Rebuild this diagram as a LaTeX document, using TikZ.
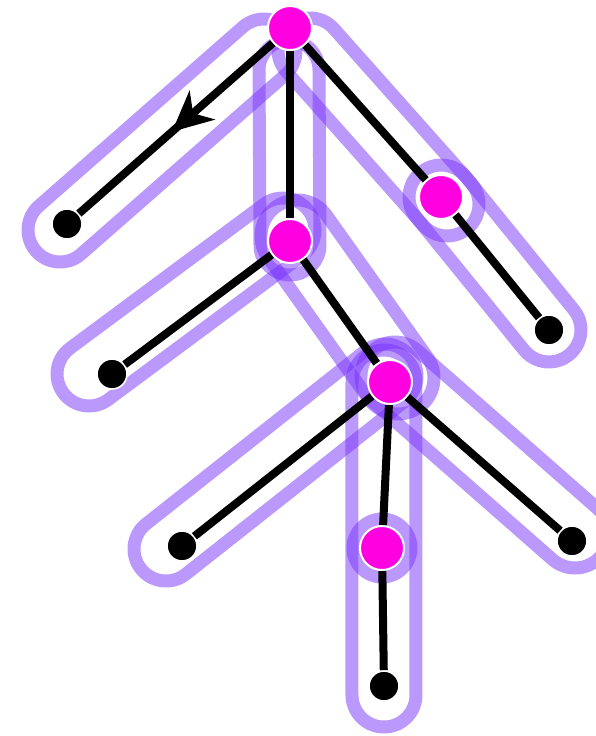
\documentclass[tikz,border=0pt]{standalone}
\usepackage{tikz}
\usetikzlibrary{arrows.meta,calc,decorations.markings}
\definecolor{hullviolet}{RGB}{120,50,250}
\definecolor{vtxmagenta}{RGB}{255,0,225}

% capsule round a path piece: \hull[radius]{(from)}{(to)}
\newcommand{\hull}[3][16pt]{%
  \path let \p1=($#3-#2$) in
    node[hullbox,minimum width={veclen(\x1,\y1)+2*#1},minimum height={2*#1},
         rounded corners=#1,rotate={atan2(\y1,\x1)}] at ($#2!0.5!#3$) {};}

\begin{document}
\begin{tikzpicture}[x=0.5pt,y=-0.5pt,
  hullbox/.style={draw=hullviolet,draw opacity=0.5,line width=6.5pt,line join=round,
                  inner sep=0pt,outer sep=0pt},
  vtx/.style={circle,fill=vtxmagenta,draw=white,line width=1pt,minimum size=22pt,inner sep=0pt},
  leaf/.style={circle,fill=black,draw=white,line width=0.8pt,minimum size=15pt,inner sep=0pt},
  edge/.style={draw=black,line width=4pt},
  arrowmid/.style={postaction=decorate,decoration={markings,
    mark=at position 0.52 with {\arrow{Stealth[length=20pt,width=19pt,inset=6pt]}}}}]
\useasboundingbox (0,0) rectangle (596,736);

\hull{(264,51)}{(60,230)}
\hull[15pt]{(289,70)}{(290,245)}
\hull{(310,50)}{(447,204)}
\hull{(441,197)}{(549,330)}
\hull{(283,230)}{(89,374)}
\hull[18pt]{(297,236)}{(398,378)}
\hull{(385,376)}{(166,549)}
\hull[17pt]{(395,376)}{(575,534)}
\hull{(384,382)}{(384,695)}
\draw[hullbox] (382,548) circle[radius=14.5pt];

\node[vtx] (root) at (290,28) {};
\node[vtx] (m1) at (441,197) {};
\node[vtx] (m2) at (290,241) {};
\node[vtx] (m3) at (390,382) {};
\node[vtx] (m4) at (382,548) {};
\node[leaf] (l1) at (67,224) {};
\node[leaf] (l2) at (549,330) {};
\node[leaf] (l3) at (112,374) {};
\node[leaf] (l4) at (182,546) {};
\node[leaf] (l5) at (572,541) {};
\node[leaf] (l6) at (384,686) {};

\draw[edge,arrowmid] (root) -- (l1);
\draw[edge] (root) -- (m2);
\draw[edge] (root) -- (m1);
\draw[edge] (m1) -- (l2);
\draw[edge] (m2) -- (l3);
\draw[edge] (m2) -- (m3);
\draw[edge] (m3) -- (l4);
\draw[edge] (m3) -- (l5);
\draw[edge] (m3) -- (m4);
\draw[edge] (m4) -- (l6);
\end{tikzpicture}
\end{document}
